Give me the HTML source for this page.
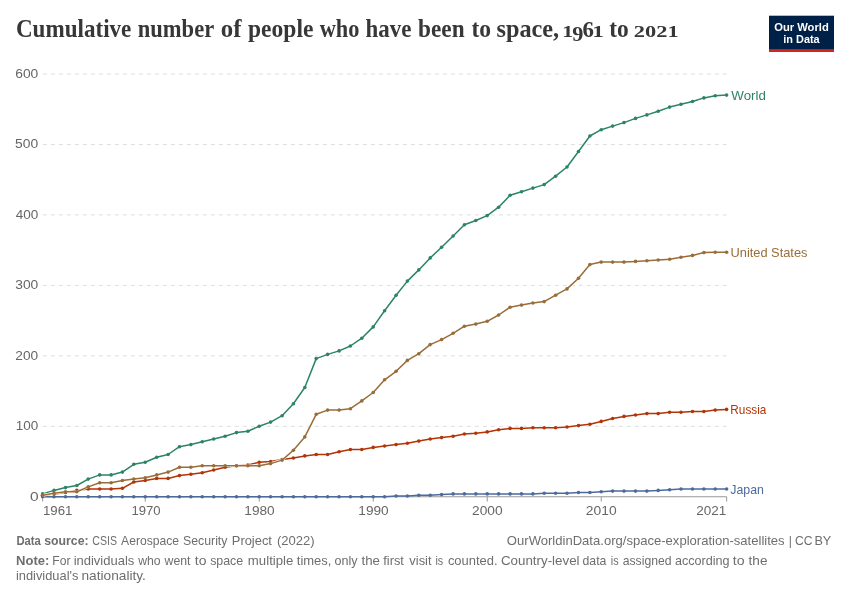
<!DOCTYPE html>
<html lang="en">
<head>
<meta charset="utf-8">
<title>Cumulative number of people who have been to space, 1961 to 2021</title>
<style>
html,body{margin:0;padding:0;background:#fff;}
body{width:850px;height:600px;overflow:hidden;}
svg{display:block;}
.sans{font-family:"Liberation Sans",sans-serif;}
.serif{font-family:"Liberation Serif",serif;}
</style>
</head>
<body>
<svg width="850" height="600" viewBox="0 0 850 600">
<rect x="0" y="0" width="850" height="600" fill="#ffffff"/>
<text class="serif" font-size="24.5" font-weight="700" fill="#373737">
<tspan x="15.92" y="37.00" textLength="115.45" lengthAdjust="spacingAndGlyphs">Cumulative</tspan> <tspan x="137.77" y="37.00" textLength="75.97" lengthAdjust="spacingAndGlyphs">number</tspan> <tspan x="220.74" y="37.00" textLength="20.71" lengthAdjust="spacingAndGlyphs">of</tspan> <tspan x="248.02" y="37.00" textLength="65.36" lengthAdjust="spacingAndGlyphs">people</tspan> <tspan x="319.74" y="37.00" textLength="39.71" lengthAdjust="spacingAndGlyphs">who</tspan> <tspan x="365.44" y="37.00" textLength="45.87" lengthAdjust="spacingAndGlyphs">have</tspan> <tspan x="418.11" y="37.00" textLength="46.46" lengthAdjust="spacingAndGlyphs">been</tspan> <tspan x="471.46" y="37.00" textLength="19.58" lengthAdjust="spacingAndGlyphs">to</tspan> <tspan x="496.44" y="37.00" textLength="62.70" lengthAdjust="spacingAndGlyphs">space,</tspan> <tspan x="562.30" y="37.00" textLength="10.98" lengthAdjust="spacingAndGlyphs" font-size="15.8">1</tspan><tspan x="572.21" y="40.60" textLength="11.12" lengthAdjust="spacingAndGlyphs" font-size="21.9">9</tspan><tspan x="582.57" y="37.00" textLength="11.44" lengthAdjust="spacingAndGlyphs" font-size="23.5">6</tspan><tspan x="592.15" y="37.00" textLength="11.65" lengthAdjust="spacingAndGlyphs" font-size="15.8">1</tspan> <tspan x="609.18" y="37.00" textLength="19.51" lengthAdjust="spacingAndGlyphs">to</tspan> <tspan x="633.82" y="37.00" textLength="44.83" lengthAdjust="spacingAndGlyphs" font-size="15.8">2021</tspan>
</text>
<g>
<rect x="769" y="15.7" width="65" height="36" fill="#002147"/>
<rect x="769" y="49.1" width="65" height="2.6" fill="#ce261e"/>
<text class="sans" x="801.5" y="30.7" font-size="11.2" font-weight="700" fill="#ffffff" text-anchor="middle" textLength="54.5" lengthAdjust="spacingAndGlyphs">Our World</text>
<text class="sans" x="801.5" y="42.7" font-size="11.2" font-weight="700" fill="#ffffff" text-anchor="middle" textLength="36.4" lengthAdjust="spacingAndGlyphs">in Data</text>
</g>
<g stroke="#dddddd" stroke-width="1" stroke-dasharray="4,4" fill="none">
<line x1="42.8" x2="726.6" y1="426.29" y2="426.29"/>
<line x1="42.8" x2="726.6" y1="355.83" y2="355.83"/>
<line x1="42.8" x2="726.6" y1="285.37" y2="285.37"/>
<line x1="42.8" x2="726.6" y1="214.91" y2="214.91"/>
<line x1="42.8" x2="726.6" y1="144.45" y2="144.45"/>
<line x1="42.8" x2="726.6" y1="73.99" y2="73.99"/>
</g>
<g class="sans" font-size="13.4" fill="#666666">
<text><tspan x="29.99" y="500.55" textLength="8.61" lengthAdjust="spacingAndGlyphs">0</tspan></text>
<text><tspan x="15.65" y="430.09" textLength="22.49" lengthAdjust="spacingAndGlyphs">100</tspan></text>
<text><tspan x="15.30" y="359.63" textLength="22.79" lengthAdjust="spacingAndGlyphs">200</tspan></text>
<text><tspan x="15.22" y="289.17" textLength="23.06" lengthAdjust="spacingAndGlyphs">300</tspan></text>
<text><tspan x="15.70" y="218.71" textLength="22.53" lengthAdjust="spacingAndGlyphs">400</tspan></text>
<text><tspan x="15.11" y="148.25" textLength="23.13" lengthAdjust="spacingAndGlyphs">500</tspan></text>
<text><tspan x="15.24" y="77.79" textLength="23.07" lengthAdjust="spacingAndGlyphs">600</tspan></text>
<text><tspan x="42.97" y="514.60" textLength="29.45" lengthAdjust="spacingAndGlyphs">1961</tspan></text>
<text><tspan x="131.48" y="514.60" textLength="29.15" lengthAdjust="spacingAndGlyphs">1970</tspan></text>
<text><tspan x="244.35" y="514.60" textLength="30.34" lengthAdjust="spacingAndGlyphs">1980</tspan></text>
<text><tspan x="358.35" y="514.60" textLength="30.34" lengthAdjust="spacingAndGlyphs">1990</tspan></text>
<text><tspan x="472.10" y="514.60" textLength="30.52" lengthAdjust="spacingAndGlyphs">2000</tspan></text>
<text><tspan x="585.88" y="514.60" textLength="30.82" lengthAdjust="spacingAndGlyphs">2010</tspan></text>
<text><tspan x="696.31" y="514.60" textLength="29.99" lengthAdjust="spacingAndGlyphs">2021</tspan></text>
</g>
<g stroke="#999999" stroke-width="1" fill="none">
<line x1="42.65" x2="726.65" y1="496.75" y2="496.75"/>
<line x1="42.65" x2="42.65" y1="496.75" y2="501.55"/>
<line x1="145.25" x2="145.25" y1="496.75" y2="501.55"/>
<line x1="259.25" x2="259.25" y1="496.75" y2="501.55"/>
<line x1="373.25" x2="373.25" y1="496.75" y2="501.55"/>
<line x1="487.25" x2="487.25" y1="496.75" y2="501.55"/>
<line x1="601.25" x2="601.25" y1="496.75" y2="501.55"/>
<line x1="726.65" x2="726.65" y1="496.75" y2="501.55"/>
</g>
<g fill="#4C6A9C" stroke="none">
<polyline points="42.6,496.8 54.0,496.8 65.5,496.8 76.8,496.8 88.2,496.8 99.7,496.8 111.1,496.8 122.4,496.8 133.8,496.8 145.2,496.8 156.7,496.8 168.1,496.8 179.5,496.8 190.9,496.8 202.2,496.8 213.7,496.8 225.1,496.8 236.5,496.8 247.9,496.8 259.2,496.8 270.6,496.8 282.1,496.8 293.4,496.8 304.8,496.8 316.2,496.8 327.6,496.8 339.1,496.8 350.4,496.8 361.8,496.8 373.2,496.8 384.6,496.8 396.1,496.0 407.4,496.0 418.8,495.3 430.2,495.3 441.6,494.6 453.1,493.9 464.4,493.9 475.8,493.9 487.2,493.9 498.6,493.9 510.1,493.9 521.5,493.9 532.9,493.9 544.2,493.2 555.6,493.2 567.0,493.2 578.5,492.5 589.9,492.5 601.2,491.8 612.6,491.1 624.0,491.1 635.5,491.1 646.9,491.1 658.2,490.4 669.6,489.7 681.0,489.0 692.5,489.0 703.9,489.0 715.2,489.0 726.6,489.0" fill="none" stroke="#4C6A9C" stroke-width="1.5" stroke-linejoin="round" stroke-linecap="round"/>
<circle cx="42.6" cy="496.8" r="1.8"/><circle cx="54.0" cy="496.8" r="1.8"/><circle cx="65.5" cy="496.8" r="1.8"/><circle cx="76.8" cy="496.8" r="1.8"/><circle cx="88.2" cy="496.8" r="1.8"/><circle cx="99.7" cy="496.8" r="1.8"/><circle cx="111.1" cy="496.8" r="1.8"/><circle cx="122.4" cy="496.8" r="1.8"/><circle cx="133.8" cy="496.8" r="1.8"/><circle cx="145.2" cy="496.8" r="1.8"/><circle cx="156.7" cy="496.8" r="1.8"/><circle cx="168.1" cy="496.8" r="1.8"/><circle cx="179.5" cy="496.8" r="1.8"/><circle cx="190.9" cy="496.8" r="1.8"/><circle cx="202.2" cy="496.8" r="1.8"/><circle cx="213.7" cy="496.8" r="1.8"/><circle cx="225.1" cy="496.8" r="1.8"/><circle cx="236.5" cy="496.8" r="1.8"/><circle cx="247.9" cy="496.8" r="1.8"/><circle cx="259.2" cy="496.8" r="1.8"/><circle cx="270.6" cy="496.8" r="1.8"/><circle cx="282.1" cy="496.8" r="1.8"/><circle cx="293.4" cy="496.8" r="1.8"/><circle cx="304.8" cy="496.8" r="1.8"/><circle cx="316.2" cy="496.8" r="1.8"/><circle cx="327.6" cy="496.8" r="1.8"/><circle cx="339.1" cy="496.8" r="1.8"/><circle cx="350.4" cy="496.8" r="1.8"/><circle cx="361.8" cy="496.8" r="1.8"/><circle cx="373.2" cy="496.8" r="1.8"/><circle cx="384.6" cy="496.8" r="1.8"/><circle cx="396.1" cy="496.0" r="1.8"/><circle cx="407.4" cy="496.0" r="1.8"/><circle cx="418.8" cy="495.3" r="1.8"/><circle cx="430.2" cy="495.3" r="1.8"/><circle cx="441.6" cy="494.6" r="1.8"/><circle cx="453.1" cy="493.9" r="1.8"/><circle cx="464.4" cy="493.9" r="1.8"/><circle cx="475.8" cy="493.9" r="1.8"/><circle cx="487.2" cy="493.9" r="1.8"/><circle cx="498.6" cy="493.9" r="1.8"/><circle cx="510.1" cy="493.9" r="1.8"/><circle cx="521.5" cy="493.9" r="1.8"/><circle cx="532.9" cy="493.9" r="1.8"/><circle cx="544.2" cy="493.2" r="1.8"/><circle cx="555.6" cy="493.2" r="1.8"/><circle cx="567.0" cy="493.2" r="1.8"/><circle cx="578.5" cy="492.5" r="1.8"/><circle cx="589.9" cy="492.5" r="1.8"/><circle cx="601.2" cy="491.8" r="1.8"/><circle cx="612.6" cy="491.1" r="1.8"/><circle cx="624.0" cy="491.1" r="1.8"/><circle cx="635.5" cy="491.1" r="1.8"/><circle cx="646.9" cy="491.1" r="1.8"/><circle cx="658.2" cy="490.4" r="1.8"/><circle cx="669.6" cy="489.7" r="1.8"/><circle cx="681.0" cy="489.0" r="1.8"/><circle cx="692.5" cy="489.0" r="1.8"/><circle cx="703.9" cy="489.0" r="1.8"/><circle cx="715.2" cy="489.0" r="1.8"/><circle cx="726.6" cy="489.0" r="1.8"/>
</g>
<g fill="#2C8465" stroke="none">
<polyline points="42.6,493.9 54.0,490.4 65.5,487.6 76.8,485.5 88.2,479.1 99.7,474.9 111.1,474.9 122.4,472.1 133.8,464.3 145.2,462.2 156.7,457.3 168.1,454.5 179.5,446.7 190.9,444.6 202.2,441.8 213.7,439.0 225.1,436.2 236.5,432.6 247.9,431.2 259.2,426.3 270.6,422.1 282.1,415.7 293.4,403.7 304.8,387.5 316.2,358.6 327.6,354.4 339.1,350.9 350.4,346.0 361.8,338.2 373.2,326.9 384.6,310.7 396.1,295.2 407.4,281.1 418.8,269.9 430.2,257.9 441.6,247.3 453.1,236.0 464.4,224.8 475.8,220.5 487.2,215.6 498.6,207.2 510.1,195.2 521.5,191.7 532.9,188.1 544.2,184.6 555.6,176.2 567.0,167.0 578.5,151.5 589.9,136.0 601.2,129.7 612.6,126.1 624.0,122.6 635.5,118.4 646.9,114.9 658.2,111.3 669.6,107.1 681.0,104.3 692.5,101.5 703.9,97.9 715.2,95.8 726.6,95.1" fill="none" stroke="#ffffff" stroke-width="2.6" stroke-linejoin="round" stroke-linecap="butt"/>
<polyline points="42.6,493.9 54.0,490.4 65.5,487.6 76.8,485.5 88.2,479.1 99.7,474.9 111.1,474.9 122.4,472.1 133.8,464.3 145.2,462.2 156.7,457.3 168.1,454.5 179.5,446.7 190.9,444.6 202.2,441.8 213.7,439.0 225.1,436.2 236.5,432.6 247.9,431.2 259.2,426.3 270.6,422.1 282.1,415.7 293.4,403.7 304.8,387.5 316.2,358.6 327.6,354.4 339.1,350.9 350.4,346.0 361.8,338.2 373.2,326.9 384.6,310.7 396.1,295.2 407.4,281.1 418.8,269.9 430.2,257.9 441.6,247.3 453.1,236.0 464.4,224.8 475.8,220.5 487.2,215.6 498.6,207.2 510.1,195.2 521.5,191.7 532.9,188.1 544.2,184.6 555.6,176.2 567.0,167.0 578.5,151.5 589.9,136.0 601.2,129.7 612.6,126.1 624.0,122.6 635.5,118.4 646.9,114.9 658.2,111.3 669.6,107.1 681.0,104.3 692.5,101.5 703.9,97.9 715.2,95.8 726.6,95.1" fill="none" stroke="#2C8465" stroke-width="1.5" stroke-linejoin="round" stroke-linecap="round"/>
<circle cx="42.6" cy="493.9" r="1.8"/><circle cx="54.0" cy="490.4" r="1.8"/><circle cx="65.5" cy="487.6" r="1.8"/><circle cx="76.8" cy="485.5" r="1.8"/><circle cx="88.2" cy="479.1" r="1.8"/><circle cx="99.7" cy="474.9" r="1.8"/><circle cx="111.1" cy="474.9" r="1.8"/><circle cx="122.4" cy="472.1" r="1.8"/><circle cx="133.8" cy="464.3" r="1.8"/><circle cx="145.2" cy="462.2" r="1.8"/><circle cx="156.7" cy="457.3" r="1.8"/><circle cx="168.1" cy="454.5" r="1.8"/><circle cx="179.5" cy="446.7" r="1.8"/><circle cx="190.9" cy="444.6" r="1.8"/><circle cx="202.2" cy="441.8" r="1.8"/><circle cx="213.7" cy="439.0" r="1.8"/><circle cx="225.1" cy="436.2" r="1.8"/><circle cx="236.5" cy="432.6" r="1.8"/><circle cx="247.9" cy="431.2" r="1.8"/><circle cx="259.2" cy="426.3" r="1.8"/><circle cx="270.6" cy="422.1" r="1.8"/><circle cx="282.1" cy="415.7" r="1.8"/><circle cx="293.4" cy="403.7" r="1.8"/><circle cx="304.8" cy="387.5" r="1.8"/><circle cx="316.2" cy="358.6" r="1.8"/><circle cx="327.6" cy="354.4" r="1.8"/><circle cx="339.1" cy="350.9" r="1.8"/><circle cx="350.4" cy="346.0" r="1.8"/><circle cx="361.8" cy="338.2" r="1.8"/><circle cx="373.2" cy="326.9" r="1.8"/><circle cx="384.6" cy="310.7" r="1.8"/><circle cx="396.1" cy="295.2" r="1.8"/><circle cx="407.4" cy="281.1" r="1.8"/><circle cx="418.8" cy="269.9" r="1.8"/><circle cx="430.2" cy="257.9" r="1.8"/><circle cx="441.6" cy="247.3" r="1.8"/><circle cx="453.1" cy="236.0" r="1.8"/><circle cx="464.4" cy="224.8" r="1.8"/><circle cx="475.8" cy="220.5" r="1.8"/><circle cx="487.2" cy="215.6" r="1.8"/><circle cx="498.6" cy="207.2" r="1.8"/><circle cx="510.1" cy="195.2" r="1.8"/><circle cx="521.5" cy="191.7" r="1.8"/><circle cx="532.9" cy="188.1" r="1.8"/><circle cx="544.2" cy="184.6" r="1.8"/><circle cx="555.6" cy="176.2" r="1.8"/><circle cx="567.0" cy="167.0" r="1.8"/><circle cx="578.5" cy="151.5" r="1.8"/><circle cx="589.9" cy="136.0" r="1.8"/><circle cx="601.2" cy="129.7" r="1.8"/><circle cx="612.6" cy="126.1" r="1.8"/><circle cx="624.0" cy="122.6" r="1.8"/><circle cx="635.5" cy="118.4" r="1.8"/><circle cx="646.9" cy="114.9" r="1.8"/><circle cx="658.2" cy="111.3" r="1.8"/><circle cx="669.6" cy="107.1" r="1.8"/><circle cx="681.0" cy="104.3" r="1.8"/><circle cx="692.5" cy="101.5" r="1.8"/><circle cx="703.9" cy="97.9" r="1.8"/><circle cx="715.2" cy="95.8" r="1.8"/><circle cx="726.6" cy="95.1" r="1.8"/>
</g>
<g fill="#B13507" stroke="none">
<polyline points="42.6,495.3 54.0,493.9 65.5,492.5 76.8,490.4 88.2,489.0 99.7,489.0 111.1,489.0 122.4,488.3 133.8,482.0 145.2,480.5 156.7,478.4 168.1,478.4 179.5,475.6 190.9,474.2 202.2,472.8 213.7,470.0 225.1,467.2 236.5,465.7 247.9,465.0 259.2,462.2 270.6,461.5 282.1,459.6 293.4,458.0 304.8,455.9 316.2,454.5 327.6,454.5 339.1,451.7 350.4,449.5 361.8,449.5 373.2,447.4 384.6,446.0 396.1,444.6 407.4,443.2 418.8,441.1 430.2,439.0 441.6,437.6 453.1,436.2 464.4,434.0 475.8,433.3 487.2,431.9 498.6,429.8 510.1,428.4 521.5,428.4 532.9,427.7 544.2,427.7 555.6,427.7 567.0,427.0 578.5,425.6 589.9,424.2 601.2,421.4 612.6,418.5 624.0,416.4 635.5,415.0 646.9,413.6 658.2,413.6 669.6,412.2 681.0,412.2 692.5,411.5 703.9,411.5 715.2,410.1 726.6,409.4" fill="none" stroke="#ffffff" stroke-width="2.6" stroke-linejoin="round" stroke-linecap="butt"/>
<polyline points="42.6,495.3 54.0,493.9 65.5,492.5 76.8,490.4 88.2,489.0 99.7,489.0 111.1,489.0 122.4,488.3 133.8,482.0 145.2,480.5 156.7,478.4 168.1,478.4 179.5,475.6 190.9,474.2 202.2,472.8 213.7,470.0 225.1,467.2 236.5,465.7 247.9,465.0 259.2,462.2 270.6,461.5 282.1,459.6 293.4,458.0 304.8,455.9 316.2,454.5 327.6,454.5 339.1,451.7 350.4,449.5 361.8,449.5 373.2,447.4 384.6,446.0 396.1,444.6 407.4,443.2 418.8,441.1 430.2,439.0 441.6,437.6 453.1,436.2 464.4,434.0 475.8,433.3 487.2,431.9 498.6,429.8 510.1,428.4 521.5,428.4 532.9,427.7 544.2,427.7 555.6,427.7 567.0,427.0 578.5,425.6 589.9,424.2 601.2,421.4 612.6,418.5 624.0,416.4 635.5,415.0 646.9,413.6 658.2,413.6 669.6,412.2 681.0,412.2 692.5,411.5 703.9,411.5 715.2,410.1 726.6,409.4" fill="none" stroke="#B13507" stroke-width="1.5" stroke-linejoin="round" stroke-linecap="round"/>
<circle cx="42.6" cy="495.3" r="1.8"/><circle cx="54.0" cy="493.9" r="1.8"/><circle cx="65.5" cy="492.5" r="1.8"/><circle cx="76.8" cy="490.4" r="1.8"/><circle cx="88.2" cy="489.0" r="1.8"/><circle cx="99.7" cy="489.0" r="1.8"/><circle cx="111.1" cy="489.0" r="1.8"/><circle cx="122.4" cy="488.3" r="1.8"/><circle cx="133.8" cy="482.0" r="1.8"/><circle cx="145.2" cy="480.5" r="1.8"/><circle cx="156.7" cy="478.4" r="1.8"/><circle cx="168.1" cy="478.4" r="1.8"/><circle cx="179.5" cy="475.6" r="1.8"/><circle cx="190.9" cy="474.2" r="1.8"/><circle cx="202.2" cy="472.8" r="1.8"/><circle cx="213.7" cy="470.0" r="1.8"/><circle cx="225.1" cy="467.2" r="1.8"/><circle cx="236.5" cy="465.7" r="1.8"/><circle cx="247.9" cy="465.0" r="1.8"/><circle cx="259.2" cy="462.2" r="1.8"/><circle cx="270.6" cy="461.5" r="1.8"/><circle cx="282.1" cy="459.6" r="1.8"/><circle cx="293.4" cy="458.0" r="1.8"/><circle cx="304.8" cy="455.9" r="1.8"/><circle cx="316.2" cy="454.5" r="1.8"/><circle cx="327.6" cy="454.5" r="1.8"/><circle cx="339.1" cy="451.7" r="1.8"/><circle cx="350.4" cy="449.5" r="1.8"/><circle cx="361.8" cy="449.5" r="1.8"/><circle cx="373.2" cy="447.4" r="1.8"/><circle cx="384.6" cy="446.0" r="1.8"/><circle cx="396.1" cy="444.6" r="1.8"/><circle cx="407.4" cy="443.2" r="1.8"/><circle cx="418.8" cy="441.1" r="1.8"/><circle cx="430.2" cy="439.0" r="1.8"/><circle cx="441.6" cy="437.6" r="1.8"/><circle cx="453.1" cy="436.2" r="1.8"/><circle cx="464.4" cy="434.0" r="1.8"/><circle cx="475.8" cy="433.3" r="1.8"/><circle cx="487.2" cy="431.9" r="1.8"/><circle cx="498.6" cy="429.8" r="1.8"/><circle cx="510.1" cy="428.4" r="1.8"/><circle cx="521.5" cy="428.4" r="1.8"/><circle cx="532.9" cy="427.7" r="1.8"/><circle cx="544.2" cy="427.7" r="1.8"/><circle cx="555.6" cy="427.7" r="1.8"/><circle cx="567.0" cy="427.0" r="1.8"/><circle cx="578.5" cy="425.6" r="1.8"/><circle cx="589.9" cy="424.2" r="1.8"/><circle cx="601.2" cy="421.4" r="1.8"/><circle cx="612.6" cy="418.5" r="1.8"/><circle cx="624.0" cy="416.4" r="1.8"/><circle cx="635.5" cy="415.0" r="1.8"/><circle cx="646.9" cy="413.6" r="1.8"/><circle cx="658.2" cy="413.6" r="1.8"/><circle cx="669.6" cy="412.2" r="1.8"/><circle cx="681.0" cy="412.2" r="1.8"/><circle cx="692.5" cy="411.5" r="1.8"/><circle cx="703.9" cy="411.5" r="1.8"/><circle cx="715.2" cy="410.1" r="1.8"/><circle cx="726.6" cy="409.4" r="1.8"/>
</g>
<g fill="#996D39" stroke="none">
<polyline points="42.6,495.3 54.0,493.2 65.5,491.8 76.8,491.8 88.2,486.9 99.7,482.7 111.1,482.7 122.4,480.5 133.8,479.1 145.2,477.7 156.7,474.9 168.1,472.1 179.5,467.2 190.9,467.2 202.2,465.7 213.7,465.7 225.1,465.7 236.5,465.7 247.9,465.7 259.2,465.7 270.6,463.6 282.1,460.1 293.4,450.2 304.8,436.9 316.2,414.3 327.6,410.1 339.1,410.1 350.4,408.7 361.8,400.9 373.2,392.5 384.6,379.8 396.1,371.3 407.4,360.4 418.8,353.7 430.2,344.6 441.6,339.6 453.1,333.3 464.4,326.2 475.8,324.1 487.2,321.3 498.6,315.0 510.1,307.2 521.5,305.1 532.9,303.0 544.2,301.6 555.6,295.2 567.0,288.9 578.5,278.3 589.9,264.6 601.2,262.1 612.6,262.1 624.0,262.1 635.5,261.4 646.9,260.7 658.2,260.0 669.6,259.3 681.0,257.2 692.5,255.4 703.9,252.6 715.2,252.3 726.6,252.3" fill="none" stroke="#ffffff" stroke-width="2.6" stroke-linejoin="round" stroke-linecap="butt"/>
<polyline points="42.6,495.3 54.0,493.2 65.5,491.8 76.8,491.8 88.2,486.9 99.7,482.7 111.1,482.7 122.4,480.5 133.8,479.1 145.2,477.7 156.7,474.9 168.1,472.1 179.5,467.2 190.9,467.2 202.2,465.7 213.7,465.7 225.1,465.7 236.5,465.7 247.9,465.7 259.2,465.7 270.6,463.6 282.1,460.1 293.4,450.2 304.8,436.9 316.2,414.3 327.6,410.1 339.1,410.1 350.4,408.7 361.8,400.9 373.2,392.5 384.6,379.8 396.1,371.3 407.4,360.4 418.8,353.7 430.2,344.6 441.6,339.6 453.1,333.3 464.4,326.2 475.8,324.1 487.2,321.3 498.6,315.0 510.1,307.2 521.5,305.1 532.9,303.0 544.2,301.6 555.6,295.2 567.0,288.9 578.5,278.3 589.9,264.6 601.2,262.1 612.6,262.1 624.0,262.1 635.5,261.4 646.9,260.7 658.2,260.0 669.6,259.3 681.0,257.2 692.5,255.4 703.9,252.6 715.2,252.3 726.6,252.3" fill="none" stroke="#996D39" stroke-width="1.5" stroke-linejoin="round" stroke-linecap="round"/>
<circle cx="42.6" cy="495.3" r="1.8"/><circle cx="54.0" cy="493.2" r="1.8"/><circle cx="65.5" cy="491.8" r="1.8"/><circle cx="76.8" cy="491.8" r="1.8"/><circle cx="88.2" cy="486.9" r="1.8"/><circle cx="99.7" cy="482.7" r="1.8"/><circle cx="111.1" cy="482.7" r="1.8"/><circle cx="122.4" cy="480.5" r="1.8"/><circle cx="133.8" cy="479.1" r="1.8"/><circle cx="145.2" cy="477.7" r="1.8"/><circle cx="156.7" cy="474.9" r="1.8"/><circle cx="168.1" cy="472.1" r="1.8"/><circle cx="179.5" cy="467.2" r="1.8"/><circle cx="190.9" cy="467.2" r="1.8"/><circle cx="202.2" cy="465.7" r="1.8"/><circle cx="213.7" cy="465.7" r="1.8"/><circle cx="225.1" cy="465.7" r="1.8"/><circle cx="236.5" cy="465.7" r="1.8"/><circle cx="247.9" cy="465.7" r="1.8"/><circle cx="259.2" cy="465.7" r="1.8"/><circle cx="270.6" cy="463.6" r="1.8"/><circle cx="282.1" cy="460.1" r="1.8"/><circle cx="293.4" cy="450.2" r="1.8"/><circle cx="304.8" cy="436.9" r="1.8"/><circle cx="316.2" cy="414.3" r="1.8"/><circle cx="327.6" cy="410.1" r="1.8"/><circle cx="339.1" cy="410.1" r="1.8"/><circle cx="350.4" cy="408.7" r="1.8"/><circle cx="361.8" cy="400.9" r="1.8"/><circle cx="373.2" cy="392.5" r="1.8"/><circle cx="384.6" cy="379.8" r="1.8"/><circle cx="396.1" cy="371.3" r="1.8"/><circle cx="407.4" cy="360.4" r="1.8"/><circle cx="418.8" cy="353.7" r="1.8"/><circle cx="430.2" cy="344.6" r="1.8"/><circle cx="441.6" cy="339.6" r="1.8"/><circle cx="453.1" cy="333.3" r="1.8"/><circle cx="464.4" cy="326.2" r="1.8"/><circle cx="475.8" cy="324.1" r="1.8"/><circle cx="487.2" cy="321.3" r="1.8"/><circle cx="498.6" cy="315.0" r="1.8"/><circle cx="510.1" cy="307.2" r="1.8"/><circle cx="521.5" cy="305.1" r="1.8"/><circle cx="532.9" cy="303.0" r="1.8"/><circle cx="544.2" cy="301.6" r="1.8"/><circle cx="555.6" cy="295.2" r="1.8"/><circle cx="567.0" cy="288.9" r="1.8"/><circle cx="578.5" cy="278.3" r="1.8"/><circle cx="589.9" cy="264.6" r="1.8"/><circle cx="601.2" cy="262.1" r="1.8"/><circle cx="612.6" cy="262.1" r="1.8"/><circle cx="624.0" cy="262.1" r="1.8"/><circle cx="635.5" cy="261.4" r="1.8"/><circle cx="646.9" cy="260.7" r="1.8"/><circle cx="658.2" cy="260.0" r="1.8"/><circle cx="669.6" cy="259.3" r="1.8"/><circle cx="681.0" cy="257.2" r="1.8"/><circle cx="692.5" cy="255.4" r="1.8"/><circle cx="703.9" cy="252.6" r="1.8"/><circle cx="715.2" cy="252.3" r="1.8"/><circle cx="726.6" cy="252.3" r="1.8"/>
</g>
<g class="sans" font-size="13.4">
<text fill="#2C8465"><tspan x="731.37" y="99.60" textLength="34.56" lengthAdjust="spacingAndGlyphs">World</tspan></text>
<text fill="#996D39"><tspan x="730.53" y="256.80" textLength="76.92" lengthAdjust="spacingAndGlyphs">United States</tspan></text>
<text fill="#B13507"><tspan x="730.34" y="413.60" textLength="36.07" lengthAdjust="spacingAndGlyphs">Russia</tspan></text>
<text fill="#4C6A9C"><tspan x="730.26" y="493.50" textLength="33.64" lengthAdjust="spacingAndGlyphs">Japan</tspan></text>
</g>
<g class="sans" font-size="13" fill="#6e6e6e">
<text font-weight="700"><tspan x="16.40" y="544.80" textLength="24.45" lengthAdjust="spacingAndGlyphs">Data</tspan> <tspan x="44.14" y="544.80" textLength="44.46" lengthAdjust="spacingAndGlyphs">source:</tspan></text>
<text><tspan x="92.25" y="544.80" textLength="24.73" lengthAdjust="spacingAndGlyphs">CSIS</tspan> <tspan x="121.09" y="544.80" textLength="58.00" lengthAdjust="spacingAndGlyphs">Aerospace</tspan> <tspan x="183.00" y="544.80" textLength="44.44" lengthAdjust="spacingAndGlyphs">Security</tspan> <tspan x="231.78" y="544.80" textLength="40.19" lengthAdjust="spacingAndGlyphs">Project</tspan> <tspan x="276.94" y="544.80" textLength="37.70" lengthAdjust="spacingAndGlyphs">(2022)</tspan></text>
<text><tspan x="506.86" y="544.80" textLength="277.78" lengthAdjust="spacingAndGlyphs">OurWorldinData.org/space-exploration-satellites</tspan> <tspan x="788.75" y="544.80" textLength="3.16" lengthAdjust="spacingAndGlyphs">|</tspan> <tspan x="794.93" y="544.80" textLength="17.50" lengthAdjust="spacingAndGlyphs">CC</tspan> <tspan x="814.40" y="544.80" textLength="16.90" lengthAdjust="spacingAndGlyphs">BY</tspan></text>
<text font-weight="700"><tspan x="16.02" y="564.90" textLength="33.29" lengthAdjust="spacingAndGlyphs">Note:</tspan></text>
<text><tspan x="52.25" y="564.90" textLength="18.21" lengthAdjust="spacingAndGlyphs">For</tspan> <tspan x="73.64" y="564.90" textLength="60.68" lengthAdjust="spacingAndGlyphs">individuals</tspan> <tspan x="138.25" y="564.90" textLength="22.43" lengthAdjust="spacingAndGlyphs">who</tspan> <tspan x="164.60" y="564.90" textLength="25.93" lengthAdjust="spacingAndGlyphs">went</tspan> <tspan x="194.78" y="564.90" textLength="11.61" lengthAdjust="spacingAndGlyphs">to</tspan> <tspan x="210.15" y="564.90" textLength="33.06" lengthAdjust="spacingAndGlyphs">space</tspan> <tspan x="247.87" y="564.90" textLength="45.50" lengthAdjust="spacingAndGlyphs">multiple</tspan> <tspan x="296.84" y="564.90" textLength="34.60" lengthAdjust="spacingAndGlyphs">times,</tspan> <tspan x="334.49" y="564.90" textLength="23.05" lengthAdjust="spacingAndGlyphs">only</tspan> <tspan x="361.48" y="564.90" textLength="18.48" lengthAdjust="spacingAndGlyphs">the</tspan> <tspan x="383.32" y="564.90" textLength="20.61" lengthAdjust="spacingAndGlyphs">first</tspan> <tspan x="409.35" y="564.90" textLength="22.15" lengthAdjust="spacingAndGlyphs">visit</tspan> <tspan x="435.45" y="564.90" textLength="7.74" lengthAdjust="spacingAndGlyphs">is</tspan> <tspan x="447.89" y="564.90" textLength="49.75" lengthAdjust="spacingAndGlyphs">counted.</tspan> <tspan x="500.91" y="564.90" textLength="78.66" lengthAdjust="spacingAndGlyphs">Country-level</tspan> <tspan x="582.55" y="564.90" textLength="23.86" lengthAdjust="spacingAndGlyphs">data</tspan> <tspan x="610.81" y="564.90" textLength="7.78" lengthAdjust="spacingAndGlyphs">is</tspan> <tspan x="622.70" y="564.90" textLength="48.84" lengthAdjust="spacingAndGlyphs">assigned</tspan> <tspan x="674.91" y="564.90" textLength="54.67" lengthAdjust="spacingAndGlyphs">according</tspan> <tspan x="732.82" y="564.90" textLength="11.79" lengthAdjust="spacingAndGlyphs">to</tspan> <tspan x="748.60" y="564.90" textLength="18.89" lengthAdjust="spacingAndGlyphs">the</tspan></text>
<text><tspan x="15.93" y="580.40" textLength="62.46" lengthAdjust="spacingAndGlyphs">individual's</tspan> <tspan x="81.51" y="580.40" textLength="64.42" lengthAdjust="spacingAndGlyphs">nationality.</tspan></text>
</g>
</svg>
</body>
</html>
